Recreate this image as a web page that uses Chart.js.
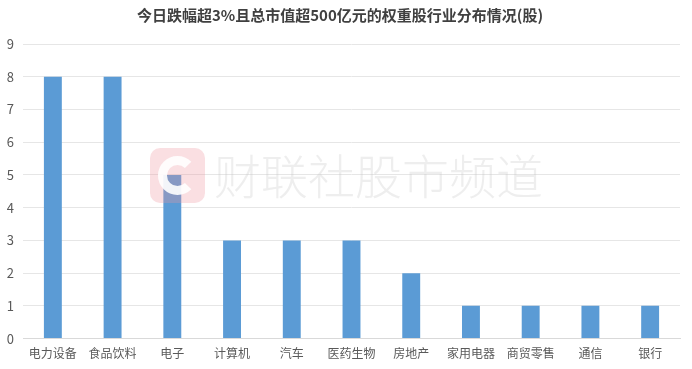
<!DOCTYPE html>
<html>
<head>
<meta charset="utf-8">
<script src="https://cdn.jsdelivr.net/npm/chart.js@4/dist/chart.umd.min.js"></script>
<style>
html,body{margin:0;padding:0;background:#fff;}
#wrap{width:692px;height:369px;position:relative;}
</style>
</head>
<body>
<div id="wrap"><canvas id="c" width="692" height="369"></canvas></div>
<script>
const chartTitle = '今日跌幅超3%且总市值超500亿元的权重股行业分布情况(股)';
const categories = ['电力设备','食品饮料','电子','计算机','汽车','医药生物','房地产','家用电器','商贸零售','通信','银行'];
const stockCounts = [8, 8, 5, 3, 3, 3, 2, 1, 1, 1, 1];
const yTicks = [0,1,2,3,4,5,6,7,8,9];
const watermarkText = '财联社股市频道';

const FONT = '"Noto Sans CJK SC", "Noto Sans", sans-serif';

const watermark = {
  id: 'watermark',
  afterDatasetsDraw(chart) {
    const ctx = chart.ctx;
    ctx.save();
    const x = 150, y = 148, w = 55, h = 55, r = 10;
    ctx.fillStyle = 'rgba(240,150,160,0.3)';
    ctx.beginPath();
    ctx.moveTo(x + r, y);
    ctx.arcTo(x + w, y, x + w, y + h, r);
    ctx.arcTo(x + w, y + h, x, y + h, r);
    ctx.arcTo(x, y + h, x, y, r);
    ctx.arcTo(x, y, x + w, y, r);
    ctx.closePath();
    ctx.fill();
    ctx.strokeStyle = 'rgba(255,255,255,0.9)';
    ctx.lineWidth = 9;
    ctx.beginPath();
    ctx.arc(x + w / 2, y + h / 2, 15, Math.PI * 0.25, Math.PI * 1.75);
    ctx.stroke();
    ctx.fillStyle = 'rgba(200,200,200,0.3)';
    ctx.font = '300 47px ' + FONT;
    ctx.textBaseline = 'middle';
    ctx.textAlign = 'left';
    ctx.fillText(watermarkText, 214, 176);
    ctx.restore();
  }
};

new Chart(document.getElementById('c'), {
  type: 'bar',
  data: {
    labels: categories,
    datasets: [{
      data: stockCounts,
      backgroundColor: '#5b9bd5',
      borderWidth: 0,
      categoryPercentage: 1,
      barPercentage: 0.3
    }]
  },
  options: {
    responsive: false,
    animation: false,
    devicePixelRatio: 1,
    layout: { padding: { left: 0, right: 12, top: 0, bottom: 0 } },
    plugins: {
      legend: { display: false },
      tooltip: { enabled: false },
      title: {
        display: true,
        text: chartTitle,
        color: '#404040',
        font: { family: FONT, size: 15, weight: 'bold' },
        padding: { top: 6, bottom: 20 }
      }
    },
    scales: {
      x: {
        grid: { display: false, drawTicks: false },
        border: { display: true, color: '#d9d9d9', width: 1 },
        ticks: {
          color: '#595959',
          font: { family: FONT, size: 12 },
          padding: 8,
          maxRotation: 0,
          autoSkip: false
        }
      },
      y: {
        min: 0,
        max: 9,
        afterBuildTicks(scale) { scale.ticks = yTicks.map(v => ({ value: v })); },
        afterFit(scale) { scale.width = 23; },
        grid: { color: '#e6e6e6', drawTicks: false, lineWidth: 1 },
        border: { display: false },
        ticks: {
          color: '#595959',
          font: { family: FONT, size: 13 },
          padding: 9
        }
      }
    }
  },
  plugins: [watermark]
});
</script>
</body>
</html>
